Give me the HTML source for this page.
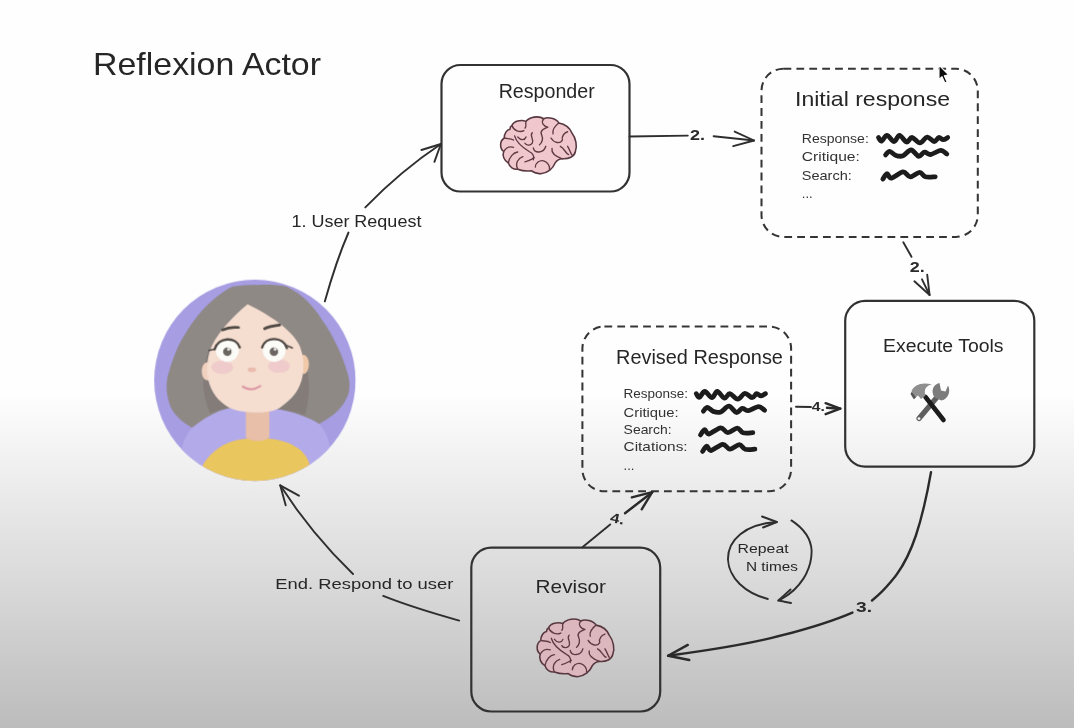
<!DOCTYPE html>
<html>
<head>
<meta charset="utf-8">
<title>Reflexion Actor</title>
<style>
  html, body { margin: 0; padding: 0; }
  body { width: 1074px; height: 728px; overflow: hidden; background: #fefefe; font-family: "Liberation Sans", sans-serif; }
  svg { display: block; }
  text { font-family: "Liberation Sans", sans-serif; fill: #262626; }
  .ln { fill: none; stroke: #2e2e2e; stroke-width: 1.9; stroke-linecap: round; stroke-linejoin: round; }
  .ln2 { fill: none; stroke: #2a2a2a; stroke-width: 2.4; stroke-linecap: round; stroke-linejoin: round; }
  .box { fill: none; stroke: #333; stroke-width: 2.2; }
  .dash { fill: none; stroke: #363636; stroke-width: 2.05; stroke-dasharray: 7.8 5.1; stroke-linecap: butt; }
  .sq { fill: none; stroke: #1c1c1c; stroke-width: 4.8; stroke-linecap: round; stroke-linejoin: round; }
  .sm { font-size: 13px; fill: #333; }
  .num { font-weight: bold; fill: #2a2a2a; }
</style>
</head>
<body>
<svg width="1074" height="728" viewBox="0 0 1074 728">
  <defs>
    <linearGradient id="bg" x1="0" y1="0" x2="0" y2="1">
      <stop offset="0" stop-color="#fefefe"/>
      <stop offset="0.54" stop-color="#fefefe"/>
      <stop offset="0.687" stop-color="#e9e9e9"/>
      <stop offset="0.824" stop-color="#d6d6d6"/>
      <stop offset="1" stop-color="#bcbcbc"/>
    </linearGradient>
    <filter id="soft" x="0" y="0" width="1074" height="728" filterUnits="userSpaceOnUse"><feGaussianBlur stdDeviation="0.7"/></filter>
    <clipPath id="avclip"><circle cx="380" cy="365" r="333"/></clipPath>
    <symbol id="brain" viewBox="90 100 760 575">
      <path d="M215 200 C230 160 300 140 350 160 C380 120 470 100 520 135 C560 115 640 130 665 175 C720 185 770 220 790 270 C830 320 845 400 825 450 C815 500 760 525 700 520 C670 520 650 530 630 560 C610 610 560 660 490 665 C450 665 420 650 400 635 C360 640 310 635 270 620 C230 625 190 600 180 560 C140 540 120 490 135 450 C95 420 95 350 140 320 C140 280 165 240 195 235 C195 220 205 205 215 200 Z" style="fill:var(--bf,#efc7cd)" stroke="#583840" stroke-width="15" stroke-linejoin="round"/>
      <g fill="none" stroke="#603a43" stroke-width="13" stroke-linecap="round" stroke-linejoin="round">
        <path d="M215 200 C230 250 290 270 330 250"/>
        <path d="M350 160 C340 190 360 210 340 225"/>
        <path d="M520 135 C490 170 520 210 560 215 C520 230 480 250 500 290 C520 330 500 370 480 385"/>
        <path d="M410 270 C380 300 430 330 410 370 C390 400 350 390 340 370"/>
        <path d="M270 310 C300 350 340 340 350 310"/>
        <path d="M240 300 C260 370 330 420 380 450 C420 470 430 500 420 530"/>
        <path d="M420 415 C430 470 520 470 540 400"/>
        <path d="M665 175 C620 210 600 240 610 280"/>
        <path d="M590 320 C620 370 680 380 700 340 C690 300 720 270 750 260"/>
        <path d="M600 420 C590 470 640 500 700 520"/>
        <path d="M680 400 C720 420 730 470 760 480"/>
        <path d="M750 400 C770 430 775 460 790 480"/>
        <path d="M140 320 C170 330 200 320 230 340"/>
        <path d="M135 450 C160 410 200 400 230 410"/>
        <path d="M180 560 C190 500 230 460 270 455"/>
        <path d="M270 620 C240 560 280 510 320 500"/>
        <path d="M340 550 C380 540 410 520 430 510"/>
        <path d="M440 600 C440 560 480 530 520 540 C560 555 580 590 575 620"/>
      </g>
    </symbol>
  </defs>

  <!-- background -->
  <rect x="0" y="0" width="1074" height="728" fill="url(#bg)"/>

  <g filter="url(#soft)">
  <!-- title -->
  <text x="93" y="75" font-size="32" textLength="228" lengthAdjust="spacingAndGlyphs">Reflexion Actor</text>

  <!-- Responder -->
  <rect class="box" x="441.5" y="65" width="188" height="126.5" rx="19" ry="19"/>
  <text x="498.7" y="98.4" font-size="20" textLength="96" lengthAdjust="spacingAndGlyphs">Responder</text>
  <use href="#brain" x="499" y="115" width="79" height="60"/>

  <!-- Initial response -->
  <rect class="dash" x="761.5" y="68.7" width="216.3" height="168.2" rx="22" ry="22"/>
  <text x="795" y="106.3" font-size="21" textLength="155" lengthAdjust="spacingAndGlyphs">Initial response</text>
  <text class="sm" x="801.8" y="143" textLength="67" lengthAdjust="spacingAndGlyphs">Response:</text>
  <text class="sm" x="801.8" y="160.5" textLength="58" lengthAdjust="spacingAndGlyphs">Critique:</text>
  <text class="sm" x="801.8" y="179.5" textLength="50" lengthAdjust="spacingAndGlyphs">Search:</text>
  <text class="sm" x="801.8" y="198">...</text>
  <path id="sq1" class="sq" d="M878.5 137.5 C879.0 138.1 880.2 141.5 881.6 141.1 C883.0 140.7 884.9 135.2 887.0 135.3 C889.1 135.4 892.0 141.5 894.1 141.5 C896.2 141.5 897.4 135.2 899.5 135.3 C901.6 135.4 904.5 141.6 906.6 142.0 C908.7 142.4 909.8 137.3 912.0 137.5 C914.2 137.7 917.5 143.0 920.0 142.9 C922.5 142.8 924.7 137.3 927.1 137.1 C929.5 136.9 932.3 141.4 934.3 141.5 C936.2 141.6 937.3 137.8 938.8 137.5 C940.3 137.2 941.7 139.7 943.2 139.7 C944.7 139.7 947.0 137.9 947.7 137.5"/>
  <path id="sq2" class="sq" d="M885.6 154.9 C886.3 154.3 887.9 151.2 889.6 151.3 C891.3 151.4 893.7 154.7 895.9 155.4 C898.1 156.2 900.5 156.7 903.0 155.8 C905.5 154.9 908.5 149.9 911.1 150.0 C913.7 150.1 916.5 155.9 918.7 156.3 C920.9 156.7 922.5 152.5 924.5 152.2 C926.5 151.9 928.0 154.8 930.7 154.5 C933.4 154.2 937.8 150.5 940.5 150.4 C943.2 150.3 945.8 153.4 946.8 154.0"/>
  <path id="sq3" class="sq" d="M882.9 179.0 C883.6 178.1 885.6 173.8 887.0 173.7 C888.4 173.5 888.7 178.4 891.4 178.1 C894.1 177.8 899.9 172.1 903.0 171.9 C906.1 171.7 907.4 176.7 910.2 176.8 C913.0 176.9 917.1 172.3 919.6 172.3 C922.1 172.3 922.8 176.1 925.4 176.8 C928.0 177.6 933.6 176.8 935.2 176.8"/>

  <!-- Execute Tools -->
  <rect class="box" x="845.2" y="300.8" width="189.1" height="165.8" rx="20" ry="20"/>
  <text x="883" y="351.6" font-size="18" textLength="120.5" lengthAdjust="spacingAndGlyphs">Execute Tools</text>
  <g id="tools">
    <!-- wrench -->
    <line x1="919" y1="418.5" x2="938" y2="396" stroke="#5e5e5e" stroke-width="5.2" stroke-linecap="round"/>
    <path d="M934.5 397.5 C930.5 391 933 384.5 939.5 383 L941 390.5 L945.5 391.5 L948 385.5 C951 391 948.5 399 941.5 400.5 Z" fill="#7c7c7c"/>
    <circle cx="919" cy="418.6" r="1.4" fill="#f4f4f4"/>
    <!-- hammer -->
    <line x1="925.5" y1="397" x2="943.5" y2="420" stroke="#1d1d1d" stroke-width="4.6" stroke-linecap="round"/>
    <path d="M911.5 391 C914 385 922 381.5 932 384.5 C926 385.5 923.5 390 925.5 395.5 L921 399 L918 395.5 L915.5 397.5 Z" fill="#8f8f8f"/>
    <path d="M911.8 391.5 L916 397.5 L913.8 399.2 L910.5 394 Z" fill="#555"/>
  </g>

  <!-- Revised Response -->
  <rect class="dash" x="582.4" y="326.5" width="208.7" height="164.8" rx="22" ry="22"/>
  <text x="616.1" y="363.6" font-size="21" textLength="166.8" lengthAdjust="spacingAndGlyphs">Revised Response</text>
  <text class="sm" x="623.6" y="398.3" textLength="64.5" lengthAdjust="spacingAndGlyphs">Response:</text>
  <text class="sm" x="623.6" y="416.5" textLength="55" lengthAdjust="spacingAndGlyphs">Critique:</text>
  <text class="sm" x="623.6" y="434" textLength="48" lengthAdjust="spacingAndGlyphs">Search:</text>
  <text class="sm" x="623.6" y="451" textLength="64" lengthAdjust="spacingAndGlyphs">Citations:</text>
  <text class="sm" x="623.6" y="469.5">...</text>
  <use href="#sq1" transform="translate(-182.2 256.2)"/>
  <use href="#sq2" transform="translate(-182.2 256.2)"/>
  <use href="#sq3" transform="translate(-182.4 255.9)"/>
  <use href="#sq3" transform="translate(-180.3 272.4)"/>

  <!-- Revisor -->
  <rect class="box" x="471.3" y="547.6" width="188.9" height="163.9" rx="20" ry="20"/>
  <text x="535.6" y="593.4" font-size="19" textLength="70.4" lengthAdjust="spacingAndGlyphs">Revisor</text>
  <use href="#brain" x="535.5" y="617" width="80" height="61" style="--bf:#dcb7be"/>

  <!-- Avatar -->
  <g transform="translate(140 270) scale(0.30222)">
    <circle cx="380" cy="365" r="333" fill="#a69de2"/>
    <g clip-path="url(#avclip)">
      <!-- lighter inner purple -->
      <path d="M172 522 C210 490 250 468 292 457 L454 460 C510 470 560 488 593 509 C640 560 640 640 600 720 L160 720 C120 640 130 570 172 522 Z" fill="#b3aaea"/>
      <!-- back hair -->
      <path d="M395 49 C430 48 460 50 486 55 C515 70 535 85 551 101 C572 122 588 142 602 165 C622 192 636 218 648 243 C662 270 672 295 680 321 C688 345 693 362 693 379 C693 400 690 415 680 431 C665 462 630 490 593 509 C560 488 510 470 454 460 L292 457 C250 468 210 490 172 522 C135 500 108 475 98 444 C90 420 87 400 88 379 C89 365 91 352 95 340 C101 318 108 297 117 275 C126 252 137 231 150 211 C163 188 178 166 195 146 C211 127 228 110 247 94 C265 79 284 66 305 55 C330 50 360 49 395 49 Z" fill="#8f8985"/>
      <!-- darker hair layers beside face -->
      <path d="M226 268 C205 330 200 400 232 474 C250 466 270 460 292 457 L300 440 Z" fill="#837c79"/>
      <path d="M530 255 C560 320 570 400 545 480 C520 470 490 464 454 460 L450 440 Z" fill="#837c79"/>
      <!-- shirt -->
      <path d="M190 690 C195 672 199 660 204.5 651.5 C216 630 230 613 246.600 599.700 C263 585 283 575 304.800 567.400 C320 562 335 559 350 557.700 L427.800 557.700 C447 559 467 563 486 570.600 C503 577 518 586 531.300 596.500 C543 607 551 618 557 632 L600 760 L160 760 Z" fill="#eac65e"/>
      <!-- neck -->
      <path d="M350 430 L428 430 L428 552 C415 570 363 570 350 552 Z" fill="#e8bfa8"/>
      <!-- ears -->
      <ellipse cx="222" cy="335" rx="18" ry="30" fill="#f0d0bf"/>
      <ellipse cx="540" cy="312" rx="19" ry="32" fill="#f0c9a9"/>
      <!-- face -->
      <path d="M356 113 C312 150 262 200 238 250 C222 285 218 330 226 365 C236 405 258 432 292 454 C330 476 430 478 462 456 C505 428 530 395 538 350 C545 310 540 280 528 250 C500 195 430 150 356 113 Z" fill="#f5ddd0"/>
      <!-- cheeks -->
      <ellipse cx="272" cy="322" rx="36" ry="22" fill="#ecc0c8" opacity="0.6"/>
      <ellipse cx="460" cy="318" rx="36" ry="22" fill="#ecc0c8" opacity="0.6"/>
      <!-- eyes -->
      <circle cx="289" cy="266" r="38" fill="#fbfbf8"/>
      <circle cx="444" cy="266" r="38" fill="#fbfbf8"/>
      <circle cx="289" cy="270" r="14" fill="#6a6560"/>
      <circle cx="443" cy="270" r="14" fill="#6a6560"/>
      <circle cx="293" cy="262" r="5" fill="#e8e6e2"/>
      <circle cx="447" cy="262" r="5" fill="#e8e6e2"/>
      <g fill="none" stroke="#4f4945" stroke-width="8" stroke-linecap="round">
        <path d="M247 262 C258 222 318 218 330 256"/>
        <path d="M404 256 C416 218 474 220 486 258"/>
        <path d="M247 262 L228 266" stroke-width="5"/>
        <path d="M486 250 L504 258" stroke-width="5"/>
        <path d="M273 198 C290 190 308 188 326 190" stroke-width="9"/>
        <path d="M412 194 C428 186 446 184 462 182" stroke-width="9"/>
      </g>
      <!-- nose + mouth -->
      <ellipse cx="370" cy="330" rx="14" ry="8" fill="#eabcb0"/>
      <path d="M340 386 Q368 404 398 384" fill="none" stroke="#de9aa6" stroke-width="7" stroke-linecap="round"/>
    </g>
  </g>

  <!-- Arrow 1: user request -->
  <path class="ln" d="M324.8 301.4 C332 276 340 252 348.5 232.5"/>
  <path class="ln" d="M365.3 207.4 C388 184 414 162 440.9 144"/>
  <path class="ln" d="M421.4 150 L440.9 144 L434.4 161.8"/>
  <text x="291.4" y="226.5" font-size="16.5" textLength="130" lengthAdjust="spacingAndGlyphs">1. User Request</text>

  <!-- Arrow 2: responder -> initial response -->
  <path class="ln" d="M629.5 136.5 L687.8 135.6"/>
  <path class="ln" d="M713.6 136.2 L754.1 140.5"/>
  <path class="ln" d="M734.7 131.6 L754.1 140.5 L733.2 146.2"/>
  <text class="num" x="690" y="140" font-size="14" textLength="15" lengthAdjust="spacingAndGlyphs">2.</text>

  <!-- Arrow 2b: initial response -> execute tools -->
  <path class="ln" d="M903.3 242.3 L911.5 256.8"/>
  <path class="ln" d="M922 279.3 L929.6 295"/>
  <path class="ln" d="M914.4 281.3 L929.6 295 L927.2 274.6"/>
  <text class="num" x="909.7" y="272.3" font-size="14" textLength="15" lengthAdjust="spacingAndGlyphs">2.</text>

  <!-- Arrow 3: execute tools -> revisor -->
  <path class="ln2" d="M931 472.1 C927 495 922 517 915.9 535.5 C909 556 901 570 891.7 580.8 C885 589 879 595 872 600.5"/>
  <path class="ln2" d="M852.4 612.6 C826 624 800 631 770.8 638.2 C738 646 704 651 668.1 655.8"/>
  <path class="ln2" d="M687.8 644.9 L668.1 655.8 L689.3 660"/>
  <text class="num" x="856" y="612" font-size="15" textLength="16" lengthAdjust="spacingAndGlyphs">3.</text>

  <!-- Arrow 4: revised response -> execute tools -->
  <path class="ln" d="M796 406.8 L811 407"/>
  <path class="ln2" d="M827 407.8 L840.3 408.7"/>
  <path class="ln2" d="M825.6 403.2 L840.3 408.7 L825.6 414.2"/>
  <text class="num" x="811.8" y="410.6" font-size="13" textLength="13" lengthAdjust="spacingAndGlyphs">4.</text>

  <!-- Arrow 4b: revisor -> revised response -->
  <path class="ln" d="M582.4 547.3 L610.2 524.4"/>
  <path class="ln2" d="M625 513.3 L652.2 492.2"/>
  <path class="ln2" d="M631.8 497.4 L652.2 492.2 L641.7 509.3"/>
  <text class="num" x="610.5" y="523.2" font-size="13.5" textLength="14" lengthAdjust="spacingAndGlyphs" transform="rotate(12 617 518)">4.</text>

  <!-- End arrow: revisor -> user -->
  <path class="ln" d="M459.2 620.6 C432 613 406 605 383.2 595.9"/>
  <path class="ln" d="M353 574 C326 548 300 516 280.2 485.3"/>
  <path class="ln" d="M285.7 505.3 L280.2 485.3 L298.9 495.7"/>
  <text x="275.3" y="589.2" font-size="15.5" textLength="178" lengthAdjust="spacingAndGlyphs">End. Respond to user</text>

  <!-- Repeat N times -->
  <path class="ln" d="M767.8 599 C745 593 729 578 728 559.7 C727.5 540 745 524 776.9 522"/>
  <path class="ln" d="M762 516.5 L776.9 522 L763 527.5"/>
  <path class="ln" d="M791.4 520.4 C803 528 811 538 811.6 550.6 C812 570 800 590 778.4 600.5"/>
  <path class="ln" d="M790.5 589.5 L778.4 600.5 L791 603"/>
  <text x="737.6" y="553" font-size="13.5" textLength="51" lengthAdjust="spacingAndGlyphs">Repeat</text>
  <text x="746" y="571" font-size="13.5" textLength="52" lengthAdjust="spacingAndGlyphs">N times</text>

  <!-- mouse cursor -->
  <path d="M939 65.2 L939 79.4 L942 76.7 L944.9 83.1 L947.1 82.1 L944.3 75.8 L948.4 74.7 Z" fill="#0a0a0a" stroke="#fff" stroke-width="1.1" stroke-linejoin="round"/>
  </g>
</svg>
</body>
</html>
